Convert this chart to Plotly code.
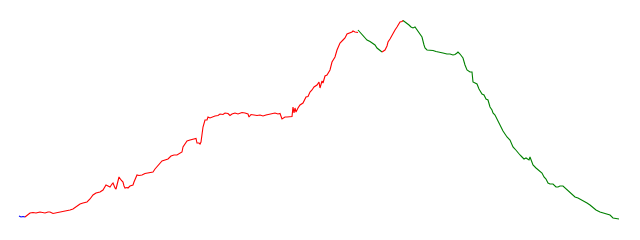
import plotly.graph_objects as go

# Series (x position, level); level = 240 - screen row
blue_x = [19, 21, 23, 25]
blue_y = [24, 23, 23.5, 23]

red1_x = [25, 28, 30, 33, 36, 40, 43, 45, 48, 50, 53, 56, 60, 64, 67, 70, 73, 76, 80, 83, 87, 90, 93, 96, 100,
          103, 106, 108, 110, 112, 113, 115, 116, 117, 119, 121, 123, 124, 125, 127, 128, 130, 133, 134, 135,
          137, 139, 142, 145, 147, 150, 153, 155, 157, 159, 160, 162, 165, 168, 171, 174, 177, 180, 182, 183,
          185, 187, 190, 193, 196, 197, 199, 200, 201, 203, 205, 207, 208, 210, 212, 214, 215, 218, 220, 223,
          225, 228, 230, 232, 235, 238, 242, 245, 248, 249, 251, 254, 257, 260, 263, 266, 270, 273, 275, 278,
          280, 282, 283, 285, 287, 290, 292, 293, 294, 295, 296, 298, 300, 303, 306, 308, 310, 312, 314, 317,
          319, 320, 322, 323, 325, 327, 330, 332, 333, 335, 337, 340, 343, 345, 347, 350, 352, 353, 355, 358]
red1_y = [23, 25, 27, 27.5, 27, 28, 27.5, 27, 28, 28, 26.5, 27, 28, 28.5, 29.5, 30, 31, 33, 36, 37, 38, 41, 45, 47, 48,
          50, 55, 54, 53, 56, 57, 52, 51, 55, 63, 60, 58, 54, 52, 52.5, 52, 54, 55, 58, 60, 65, 64.5, 65, 66.5, 67,
          67.5, 68, 71, 73, 76, 77, 79, 80, 81, 84, 85, 85, 87, 88, 93, 96, 99, 100, 101, 101.5, 97, 97, 96, 98,
          113, 120, 120, 123, 122, 123, 123.5, 124, 124.5, 126, 125.5, 127, 126.5, 124.5, 126, 127, 126, 127.5,
          127, 126, 123, 125.5, 125, 124.5, 125, 124, 125, 126, 126.5, 127, 126, 126.5, 121, 122, 123, 123, 123,
          123.5, 133, 127, 132, 128, 132, 135, 137, 143, 143.5, 148, 150, 153, 155, 158, 152, 159, 157, 164, 165,
          170, 178, 180, 183, 190, 197, 200, 202, 206, 207, 208, 209, 208, 207.5, 208, 210]

green1_x = [358, 360, 363, 365, 367, 370, 372, 375, 377, 380, 382]
green1_y = [210, 208, 205, 203, 200, 198.5, 197, 195, 192, 190, 188]

red2_x = [382, 384, 385, 387, 388, 390, 393, 395, 397, 399, 400, 402, 403]
red2_y = [188, 189, 190, 194, 198, 201, 207, 210, 213, 216, 218, 218.5, 219.5]

green2_x = [403, 405, 407, 409, 411, 413, 415, 417, 418, 420, 422, 424, 425, 427, 430, 433, 436, 440, 443, 447,
            450, 453, 455, 457, 458, 460, 462, 463, 465, 467, 470, 472, 473, 475, 477, 479, 482, 484, 486, 488,
            490, 492, 493, 495, 498, 500, 503, 505, 507, 510, 513, 515, 518, 520, 522, 524, 526, 528, 529, 530,
            533, 536, 540, 542, 544, 546, 548, 550, 553, 556, 558, 560, 563, 566, 570, 573, 575, 578, 580, 584,
            587, 590, 593, 596, 600, 603, 607, 610, 613, 616, 619]
green2_y = [219.5, 218, 217, 215, 213, 212, 213, 210, 208, 205, 203, 195, 192, 190, 190, 189.5, 188.5, 188, 187,
            186, 186, 185, 185.5, 187, 188, 186, 184, 182, 175, 170, 168, 168, 158, 157, 156, 151, 146, 145, 141,
            140, 133, 130, 127, 125, 118, 115, 109, 106, 103, 100, 93, 91, 87, 85, 83, 81, 82, 81, 80, 83, 75, 72,
            69, 67, 63, 61, 57, 56, 56, 53, 53, 54, 54, 51, 48, 45, 43, 42, 41, 39, 37, 35, 32, 30, 28, 27, 26, 25,
            22, 21.5, 21]

segments = [
    (blue_x, blue_y, "blue"),
    (red1_x, red1_y, "red"),
    (green1_x, green1_y, "green"),
    (red2_x, red2_y, "red"),
    (green2_x, green2_y, "green"),
]

fig = go.Figure()
for xs, ys, color in segments:
    fig.add_trace(go.Scatter(x=xs, y=ys, mode="lines", line=dict(color=color, width=1.1),
                             showlegend=False, hoverinfo="skip"))

fig.update_layout(
    width=640, height=240,
    margin=dict(l=0, r=0, t=0, b=0),
    paper_bgcolor="white", plot_bgcolor="white",
    xaxis=dict(range=[0, 640], visible=False),
    yaxis=dict(range=[0, 240], visible=False),
)
fig.write_html("out.html")
